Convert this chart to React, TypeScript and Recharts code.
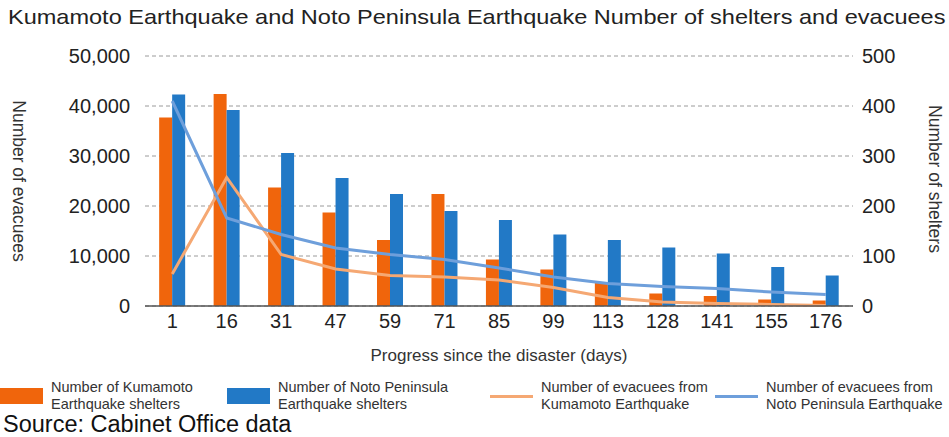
import { ComposedChart, Bar, Line, XAxis, YAxis, CartesianGrid } from 'recharts';

const days = ['1', '16', '31', '47', '59', '71', '85', '99', '113', '128', '141', '155', '176'];

// shelters (right axis)
const kumamotoShelters = [377, 424, 237, 187, 132, 224, 93, 73, 46, 25, 20, 13, 11];
const notoShelters = [423, 392, 306, 256, 224, 190, 172, 143, 132, 117, 105, 78, 61];

// evacuees (left axis)
const kumamotoEvacuees = [6400, 25700, 10300, 7400, 6100, 5800, 5200, 3700, 1700, 800, 500, 300, 100];
const notoEvacuees = [41000, 17600, 14300, 11600, 10300, 9300, 7600, 5800, 4500, 3900, 3500, 2800, 2300];

const evacueeTicks = [0, 10000, 20000, 30000, 40000, 50000];
const shelterTicks = [0, 100, 200, 300, 400, 500];

const COLORS = {
  kumamotoBar: '#f0650c',
  notoBar: '#2279c6',
  kumamotoLine: '#f5a873',
  notoLine: '#6e9fdb',
};

const legendItems = [
  { kind: 'rect', color: COLORS.kumamotoBar, lines: ['Number of Kumamoto', 'Earthquake shelters'], left: 0 },
  { kind: 'rect', color: COLORS.notoBar, lines: ['Number of Noto Peninsula', 'Earthquake shelters'], left: 227 },
  { kind: 'line', color: COLORS.kumamotoLine, lines: ['Number of evacuees from', 'Kumamoto Earthquake'], left: 490 },
  { kind: 'line', color: COLORS.notoLine, lines: ['Number of evacuees from', 'Noto Peninsula Earthquake'], left: 715 },
];

const data = days.map((day, i) => ({
  day,
  kumamotoShelters: kumamotoShelters[i],
  notoShelters: notoShelters[i],
  kumamotoEvacuees: kumamotoEvacuees[i],
  notoEvacuees: notoEvacuees[i],
}));

const FONT = '"Liberation Sans", Arial, sans-serif';
const fmt = (v: number) => v.toLocaleString('en-US');

export default function App() {
  return (
    <div style={{ position: 'absolute', left: 0, top: 0, width: 949, height: 437, background: '#fff', fontFamily: FONT, color: '#222', overflow: 'hidden' }}>
      <div style={{ position: 'absolute', left: 8, top: 5, fontSize: 21, whiteSpace: 'nowrap', transform: 'scaleX(1.12)', transformOrigin: 'left center' }}>
        Kumamoto Earthquake and Noto Peninsula Earthquake Number of shelters and evacuees
      </div>

      <ComposedChart
        width={949}
        height={370}
        data={data}
        barGap={0}
        barCategoryGap="26%"
        margin={{ top: 56, right: 0, bottom: 0, left: 0 }}
        style={{ position: 'absolute', left: 0, top: 0, fontFamily: FONT }}
      >
        <CartesianGrid yAxisId="evacuees" vertical={false} stroke="#9a9a9a" strokeDasharray="4 3" />
        <XAxis
          dataKey="day"
          height={64}
          tickLine={false}
          axisLine={{ stroke: '#555', strokeWidth: 1.5 }}
          tick={{ fontSize: 20, fill: '#222' }}
          interval={0}
          label={{ value: 'Progress since the disaster (days)', position: 'insideBottom', offset: 9, fontSize: 17, fill: '#333' }}
        />
        <YAxis
          yAxisId="evacuees"
          orientation="left"
          width={145}
          domain={[0, 50000]}
          ticks={evacueeTicks}
          tickFormatter={fmt}
          axisLine={false}
          tickLine={false}
          tickMargin={9}
          tick={{ fontSize: 20, fill: '#222' }}
        />
        <YAxis
          yAxisId="shelters"
          orientation="right"
          width={96}
          domain={[0, 500]}
          ticks={shelterTicks}
          axisLine={false}
          tickLine={false}
          tickMargin={3}
          tick={{ fontSize: 20, fill: '#222', textAnchor: 'start' }}
        />
        <Bar yAxisId="shelters" dataKey="kumamotoShelters" fill={COLORS.kumamotoBar} isAnimationActive={false} />
        <Bar yAxisId="shelters" dataKey="notoShelters" fill={COLORS.notoBar} isAnimationActive={false} />
        <Line yAxisId="evacuees" dataKey="kumamotoEvacuees" type="linear" stroke={COLORS.kumamotoLine} strokeWidth={3} dot={false} isAnimationActive={false} />
        <Line yAxisId="evacuees" dataKey="notoEvacuees" type="linear" stroke={COLORS.notoLine} strokeWidth={3} dot={false} isAnimationActive={false} />
      </ComposedChart>

      <div style={{ position: 'absolute', left: 18, top: 181, transform: 'translate(-50%, -50%) rotate(90deg)', fontSize: 17.5, whiteSpace: 'nowrap', color: '#333' }}>
        Number of evacuees
      </div>
      <div style={{ position: 'absolute', left: 934, top: 179, transform: 'translate(-50%, -50%) rotate(90deg)', fontSize: 17.5, whiteSpace: 'nowrap', color: '#333' }}>
        Number of shelters
      </div>

      {legendItems.map((item) => (
        <div key={item.lines[0] + item.left} style={{ position: 'absolute', left: item.left, top: 379, display: 'flex', alignItems: 'center' }}>
          {item.kind === 'rect' ? (
            <div style={{ width: 43, height: 16, background: item.color, marginRight: 8 }} />
          ) : (
            <div style={{ width: 43, height: 3, background: item.color, marginRight: 8 }} />
          )}
          <div style={{ fontSize: 14.5, lineHeight: '17px', color: '#333' }}>
            {item.lines.map((l) => (
              <div key={l}>{l}</div>
            ))}
          </div>
        </div>
      ))}

      <div style={{ position: 'absolute', left: 3, top: 411, fontSize: 23.5, whiteSpace: 'nowrap', color: '#111' }}>
        Source: Cabinet Office data
      </div>
    </div>
  );
}
